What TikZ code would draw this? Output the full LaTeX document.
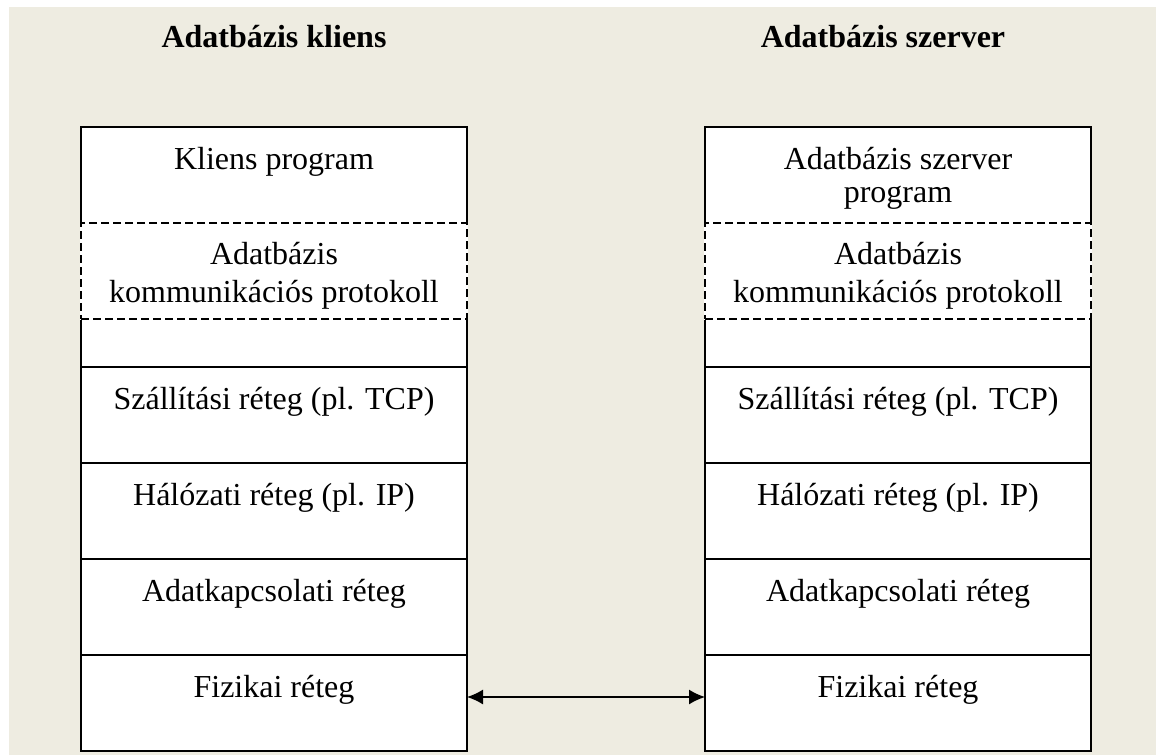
\documentclass[tikz,border=0pt]{standalone}
\usepackage{fontspec}
\setmainfont{Liberation Serif}
\usetikzlibrary{arrows.meta}
\definecolor{paper}{HTML}{EEECE1}
\begin{document}
\begin{tikzpicture}[x=1pt,y=1pt,
  layer/.style={draw=black, line width=2pt, fill=white, minimum width=386pt,
    inner sep=0pt, outer sep=0pt},
  protbox/.style={draw=black, line width=1.4pt, dash pattern=on 8pt off 4pt,
    minimum width=386pt, minimum height=96pt, inner sep=0pt, outer sep=0pt},
  lbl/.style={anchor=base, inner sep=0pt, align=center,
    font=\fontsize{32}{38}\selectfont},
  title/.style={anchor=base, inner sep=0pt, font=\fontsize{32}{38}\selectfont\bfseries},
  link/.style={line width=1.5pt, {Latex[length=16pt,width=15pt]}-{Latex[length=16pt,width=15pt]}}]

\useasboundingbox (0,0) rectangle (1156,-755);
\fill[paper] (9,-7) rectangle (1156,-755);

% column titles
\node[title] (tcli) at (274,-47) {Adatbázis kliens};
\node[title] (tsrv) at (883,-47) {Adatbázis szerver};

% protocol stacks: client (x = 274) and server (x = 898)
\foreach \side/\cx in {L/274, R/898} {
  \node[layer, minimum height=96pt]  (app\side) at (\cx,-175) {};
  \node[layer, minimum height=144pt] (mid\side) at (\cx,-295) {};
  \node[layer, minimum height=96pt]  (tr\side)  at (\cx,-415) {};
  \node[layer, minimum height=96pt]  (net\side) at (\cx,-511) {};
  \node[layer, minimum height=96pt]  (dl\side)  at (\cx,-607) {};
  \node[layer, minimum height=96pt]  (fiz\side) at (\cx,-703) {};
  % dashed protocol layer on top of the solid border
  \draw[white, line width=2.6pt] (\cx-193,-223) rectangle (\cx+193,-319);
  \node[protbox] (prot\side) at (\cx,-271) {};
}

% labels (multi-line nodes sit on the baseline of their last line)
\node[lbl] (lAppL) at (274,-169) {Kliens program};
\node[lbl] (lAppR) at (898,-202) {Adatbázis szerver\\[-5pt]program};
\node[lbl] (lProtL) at (274,-302) {Adatbázis\\kommunikációs protokoll};
\node[lbl] (lProtR) at (898,-302) {Adatbázis\\kommunikációs protokoll};
\foreach \side/\cx in {L/274, R/898} {
  \node[lbl] (lTr\side)  at (\cx,-409) {Szállítási réteg (pl. TCP)};
  \node[lbl] (lNet\side) at (\cx,-505) {Hálózati réteg (pl. IP)};
  \node[lbl] (lDl\side)  at (\cx,-601) {Adatkapcsolati réteg};
  \node[lbl] (lFiz\side) at (\cx,-697) {Fizikai réteg};
}

% physical link between the two stacks
\draw[link] ([yshift=6pt]fizL.east) -- ([yshift=6pt]fizR.west);
\end{tikzpicture}
\end{document}
